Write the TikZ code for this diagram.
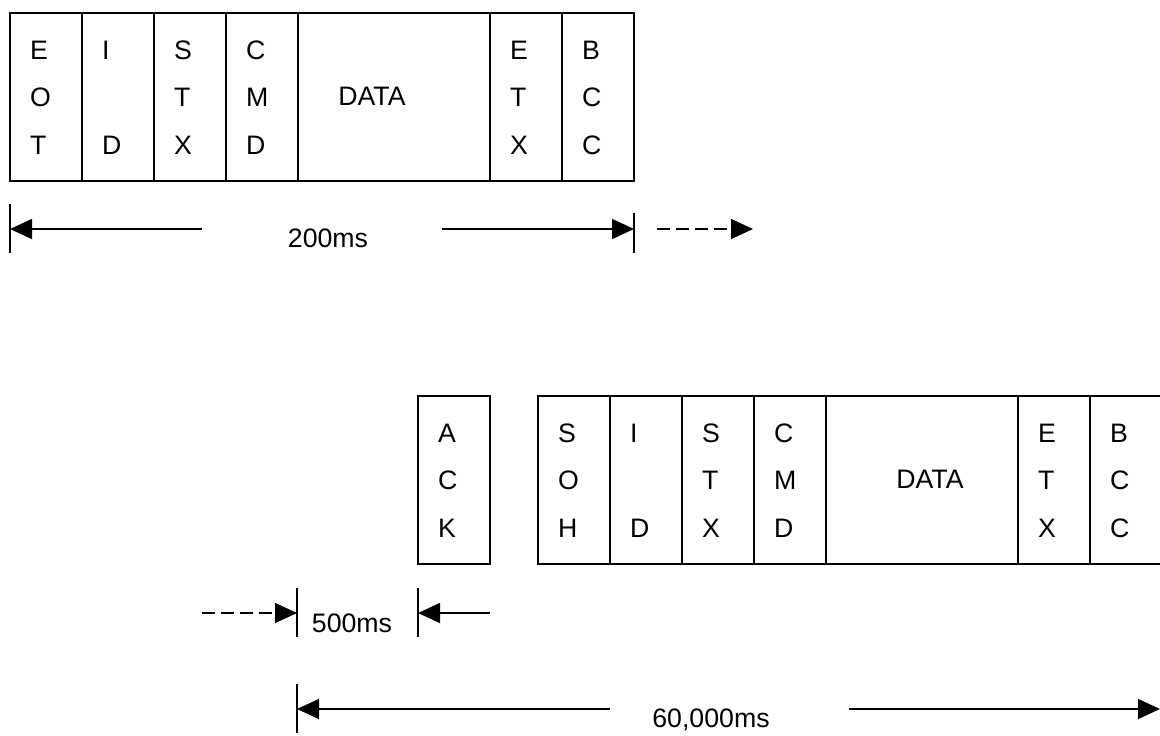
\documentclass[tikz,border=0pt]{standalone}
\usepackage{fontspec}
\setmainfont{Liberation Sans}
\usetikzlibrary{calc,arrows.meta}
\tikzset{
    letter/.style={anchor=west,inner sep=0pt,font=\fontsize{26.7}{32}\selectfont},
    maat/.style={anchor=base,inner sep=0pt,font=\fontsize{26.7}{32}\selectfont},
    lijn/.style={line width=1.4pt},
    pijl/.style={lijn,-{Triangle[length=22pt,width=20pt]}},
    stippelpijl/.style={pijl,dash pattern=on 13pt off 6pt}
}
\NewDocumentCommand{\vakje}{m m m m m m m}{ % naam, links, breedte, boven, letter 1, letter 2, letter 3
    \draw[lijn] (#2,#4) rectangle ++(#3,168);
    \node[letter] (#1-1) at (#2+20,#4+37) {#5};
    \node[letter] (#1-2) at (#2+20,#4+84) {#6};
    \node[letter] (#1-3) at (#2+20,#4+132) {#7};
}

\begin{document}
\begin{tikzpicture}[x=1pt,y=-1pt]
            \path[use as bounding box,clip] (0,0) rectangle (1160,736);
            % bovenste bericht
            \vakje{eot}{10}{72}{13}{E}{O}{T}
            \vakje{ida}{82}{72}{13}{I}{}{D}
            \vakje{stxa}{154}{72}{13}{S}{T}{X}
            \vakje{cmda}{226}{72}{13}{C}{M}{D}
            \draw[lijn] (298,13) rectangle ++(192,168);
            \node[maat,anchor=center] (dataa) at (372,96) {DATA};
            \vakje{etxa}{490}{72}{13}{E}{T}{X}
            \vakje{bcca}{562}{72}{13}{B}{C}{C}
            % onderste berichten
            \vakje{ack}{418}{72}{396}{A}{C}{K}
            \vakje{soh}{538}{72}{396}{S}{O}{H}
            \vakje{idb}{610}{72}{396}{I}{}{D}
            \vakje{stxb}{682}{72}{396}{S}{T}{X}
            \vakje{cmdb}{754}{72}{396}{C}{M}{D}
            \draw[lijn] (826,396) rectangle ++(192,168);
            \node[maat,anchor=center] (datab) at (930,479) {DATA};
            \vakje{etxb}{1018}{72}{396}{E}{T}{X}
            \vakje{bccb}{1090}{72}{396}{B}{C}{C}
            % 200ms
            \coordinate (a1) at (202,229);
            \coordinate (a2) at (442,229);
            \coordinate (a3) at (657,229);
            \coordinate (a4) at (753,229);
            \draw[lijn] (10,204) -- (10,253) coordinate (t1);
            \draw[lijn] (634,213) -- (634,253) coordinate (t2);
            \draw[pijl] (a1) -- (t1 |- a1);
            \draw[pijl] (a2) -- (t2 |- a2);
            \draw[stippelpijl] (a3) -- (a4);
            \node[maat] (tijd200) at (328,247) {200ms};
            % 500ms
            \coordinate (b1) at (202,613);
            \coordinate (b2) at (490,613);
            \draw[lijn] (297,588) -- (297,637) coordinate (t3);
            \draw[lijn] (418,588) -- (418,637) coordinate (t4);
            \draw[stippelpijl] (b1) -- (t3 |- b1);
            \draw[pijl] (b2) -- (t4 |- b2);
            \node[maat] (tijd500) at (352,632) {500ms};
            % 60,000ms
            \coordinate (c1) at (610,709);
            \coordinate (c2) at (849,709);
            \coordinate (c3) at (1160,709);
            \draw[lijn] (297,684) -- (297,733) coordinate (t5);
            \draw[pijl] (c1) -- (t5 |- c1);
            \draw[pijl] (c2) -- (c3);
            \node[maat] (tijd60000) at (711,727) {60,000ms};
        \end{tikzpicture}
\end{document}
